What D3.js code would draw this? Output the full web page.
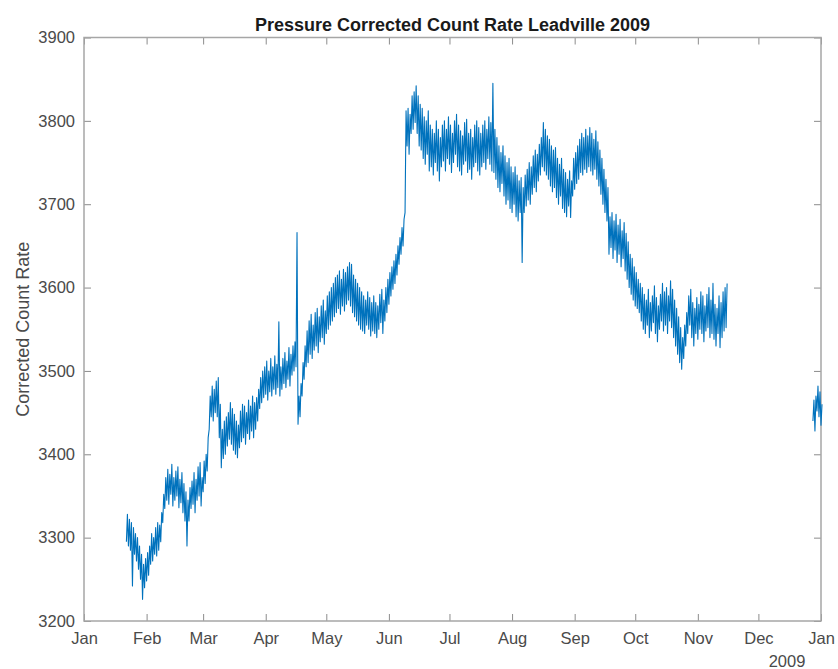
<!DOCTYPE html>
<html lang="en">
<head>
<meta charset="utf-8">
<title>Pressure Corrected Count Rate Leadville 2009</title>
<script src="https://cdn.jsdelivr.net/npm/d3@7"></script>
<style>
  body { margin: 0; background: #fff; }
  svg { font-family: "Liberation Sans", Arial, sans-serif; }
  .axis text { fill: #4a4a4a; font-size: 16.5px; }
  .axis line { stroke: #8c8c8c; }
  .axis path { display: none; }
</style>
</head>
<body>
<script>
// 12-hourly count rate readings, first reading 2009-01-22 00:00
var mainStart = "2009-01-22";
var mainRate = [
  3295,3328, 3290,3322, 3285,3318, 3242,3312, 3280,3305, 3272,3300, 3262,3290, 3250,3280, 3226,3268, 3240,3275,
  3248,3282, 3255,3290, 3268,3305, 3272,3300, 3280,3312, 3278,3318, 3285,3315, 3295,3330, 3318,3352, 3335,3372,
  3345,3382, 3340,3376, 3352,3388, 3338,3372, 3345,3380, 3350,3385, 3336,3370, 3342,3378, 3330,3365, 3320,3355,
  3290,3345, 3320,3360, 3335,3368, 3340,3378, 3330,3370, 3345,3385, 3350,3390, 3338,3372, 3355,3392, 3365,3400,
  3380,3420, 3430,3470, 3445,3482, 3440,3478, 3450,3488, 3445,3492, 3420,3460, 3384,3430, 3395,3440, 3400,3445,
  3410,3450, 3418,3462, 3412,3455, 3405,3448, 3400,3440, 3396,3435, 3408,3452, 3415,3460, 3420,3458, 3412,3450,
  3425,3465, 3418,3458, 3428,3470, 3420,3462, 3430,3468, 3440,3478, 3455,3492, 3462,3500, 3468,3505, 3472,3512,
  3465,3500, 3475,3515, 3470,3505, 3478,3518, 3472,3508, 3480,3559, 3470,3505, 3478,3515, 3485,3522, 3480,3512,
  3490,3528, 3482,3520, 3495,3530, 3500,3535, 3505,3666, 3436,3470, 3445,3485, 3470,3510, 3490,3530, 3505,3548,
  3510,3560, 3520,3568, 3515,3555, 3525,3570, 3530,3575, 3522,3565, 3535,3578, 3540,3585, 3532,3572, 3545,3590,
  3550,3595, 3555,3600, 3560,3605, 3565,3612, 3570,3615, 3575,3620, 3568,3610, 3578,3622, 3572,3618, 3580,3625,
  3585,3630, 3578,3628, 3570,3615, 3565,3610, 3560,3605, 3555,3600, 3550,3595, 3548,3590, 3545,3585, 3555,3595,
  3550,3588, 3542,3582, 3548,3590, 3545,3582, 3540,3578, 3550,3592, 3558,3598, 3545,3585, 3560,3600, 3570,3610,
  3580,3618, 3590,3625, 3598,3632, 3605,3640, 3615,3650, 3628,3660, 3640,3672, 3650,3682, 3690,3812, 3770,3815,
  3760,3808, 3785,3830, 3790,3835, 3798,3842, 3785,3830, 3770,3820, 3765,3815, 3755,3805, 3748,3800, 3760,3812,
  3740,3795, 3745,3790, 3735,3785, 3750,3800, 3740,3790, 3728,3780, 3745,3795, 3752,3800, 3740,3790, 3755,3805,
  3748,3795, 3738,3785, 3750,3800, 3760,3808, 3745,3795, 3740,3788, 3735,3782, 3748,3798, 3752,3802, 3738,3785,
  3742,3790, 3730,3780, 3745,3795, 3750,3800, 3740,3792, 3735,3785, 3745,3795, 3750,3800, 3742,3790, 3755,3805,
  3748,3798, 3740,3845, 3738,3790, 3730,3780, 3720,3770, 3715,3762, 3725,3770, 3710,3758, 3700,3750, 3705,3755,
  3695,3745, 3690,3738, 3700,3745, 3685,3735, 3680,3728, 3690,3732, 3630,3720, 3690,3735, 3698,3742, 3705,3750,
  3700,3745, 3712,3758, 3720,3765, 3715,3760, 3728,3772, 3735,3780, 3745,3798, 3740,3790, 3735,3782, 3730,3778,
  3722,3770, 3715,3765, 3720,3768, 3708,3755, 3700,3748, 3710,3755, 3695,3742, 3690,3738, 3685,3730, 3698,3740,
  3684,3728, 3710,3755, 3718,3762, 3725,3770, 3730,3778, 3738,3785, 3735,3780, 3742,3790, 3738,3782, 3745,3792,
  3740,3785, 3735,3778, 3742,3788, 3730,3775, 3722,3765, 3712,3755, 3700,3742, 3690,3730, 3680,3720, 3640,3685,
  3648,3690, 3635,3680, 3645,3688, 3630,3675, 3640,3682, 3625,3668, 3635,3678, 3620,3665, 3610,3655, 3600,3640,
  3592,3635, 3585,3625, 3578,3618, 3575,3610, 3570,3605, 3560,3600, 3550,3592, 3545,3585, 3555,3598, 3540,3582,
  3548,3590, 3558,3602, 3545,3588, 3535,3578, 3550,3592, 3560,3605, 3548,3595, 3555,3600, 3545,3590, 3560,3608,
  3552,3598, 3540,3585, 3530,3575, 3520,3565, 3510,3552, 3502,3540, 3515,3555, 3530,3570, 3545,3590, 3555,3598,
  3540,3582, 3530,3575, 3545,3588, 3538,3580, 3550,3595, 3545,3590, 3535,3578, 3548,3592, 3552,3600, 3540,3585,
  3545,3605, 3538,3580, 3530,3575, 3545,3590, 3528,3582, 3540,3595, 3548,3600, 3552,3605
];

// short stretch at the end of December
var tailStart = "2009-12-28";
var tailRate = [3440,3465, 3428,3470, 3452,3482, 3445,3475, 3435,3460];

var yTicks = [3200, 3300, 3400, 3500, 3600, 3700, 3800, 3900];
var yearLabel = "2009";
var titleText = "Pressure Corrected Count Rate Leadville 2009";
var yLabelText = "Corrected Count Rate";

var W = 838, H = 669;
var plotLeft = 84, plotRight = 821, plotTop = 37.5, plotBottom = 621;

var parseDay = d3.timeParse("%Y-%m-%d");
var halfDay = 12 * 3600 * 1000;

function toPoints(start, values) {
    var t0 = parseDay(start).getTime();
    return values.map(function(v, i) { return { date: new Date(t0 + i * halfDay), value: v }; });
}

var mainData = toPoints(mainStart, mainRate);
var tailData = toPoints(tailStart, tailRate);

var svg = d3.select("body").append("svg")
    .attr("width", W)
    .attr("height", H);

var xScale = d3.scaleTime()
    .domain([new Date(2009, 0, 1), new Date(2010, 0, 1)])
    .range([plotLeft, plotRight]);

var yScale = d3.scaleLinear()
    .domain([3200, 3900])
    .range([plotBottom, plotTop]);

var months = d3.timeMonth.range(new Date(2009, 0, 1), new Date(2010, 0, 2));

// axes with inward ticks on all four sides
svg.append("g").attr("class", "axis")
    .attr("transform", "translate(0," + plotBottom + ")")
    .call(d3.axisBottom(xScale).tickValues(months).tickFormat(d3.timeFormat("%b"))
        .tickSizeInner(-7).tickSizeOuter(0).tickPadding(11));

svg.append("g").attr("class", "axis")
    .attr("transform", "translate(0," + plotTop + ")")
    .call(d3.axisTop(xScale).tickValues(months).tickFormat("").tickSizeInner(-7).tickSizeOuter(0));

svg.append("g").attr("class", "axis")
    .attr("transform", "translate(" + plotLeft + ",0)")
    .call(d3.axisLeft(yScale).tickValues(yTicks).tickFormat(d3.format("d"))
        .tickSizeInner(-7).tickSizeOuter(0).tickPadding(9));

svg.append("g").attr("class", "axis")
    .attr("transform", "translate(" + plotRight + ",0)")
    .call(d3.axisRight(yScale).tickValues(yTicks).tickFormat("").tickSizeInner(-7).tickSizeOuter(0));

svg.append("rect")
    .attr("x", plotLeft).attr("y", plotTop)
    .attr("width", plotRight - plotLeft).attr("height", plotBottom - plotTop)
    .attr("fill", "none")
    .attr("stroke", "#a6a6a6")
    .attr("stroke-width", 1.5);

var line = d3.line()
    .x(function(d) { return xScale(d.date); })
    .y(function(d) { return yScale(d.value); });

[mainData, tailData].forEach(function(series) {
    svg.append("path")
        .datum(series)
        .attr("fill", "none")
        .attr("stroke", "#0072BD")
        .attr("stroke-width", 1.1)
        .attr("stroke-linejoin", "round")
        .attr("d", line);
});

svg.append("text")
    .attr("x", (plotLeft + plotRight) / 2)
    .attr("y", 31)
    .attr("text-anchor", "middle")
    .attr("font-weight", "bold")
    .attr("font-size", 18)
    .attr("fill", "#1a1a1a")
    .text(titleText);

svg.append("text")
    .attr("transform", "translate(29," + ((plotTop + plotBottom) / 2) + ") rotate(-90)")
    .attr("text-anchor", "middle")
    .attr("font-size", 18)
    .attr("fill", "#4a4a4a")
    .text(yLabelText);

svg.append("text")
    .attr("x", 787)
    .attr("y", 667)
    .attr("text-anchor", "middle")
    .attr("font-size", 16.5)
    .attr("fill", "#4a4a4a")
    .text(yearLabel);
</script>
</body>
</html>
